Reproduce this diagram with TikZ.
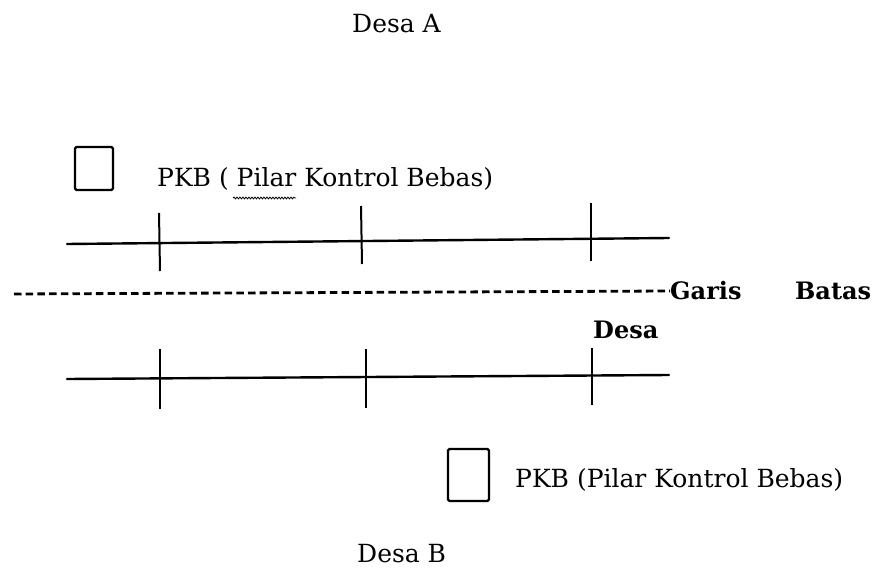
\documentclass[tikz,border=0pt]{standalone}
\usepackage{fontspec}
\setmainfont{DejaVu Serif}
\usetikzlibrary{decorations.pathmorphing}
\begin{document}
\begin{tikzpicture}[x=1pt,y=-1pt,
  lbl/.style={inner sep=0pt,anchor=base west,font=\fontsize{25}{30}\selectfont},
  boldlbl/.style={inner sep=0pt,anchor=base west,font=\fontsize{24}{29}\selectfont\bfseries},
  rail/.style={line width=2.4pt,line cap=round},
  tick/.style={line width=2pt},
  pillar/.style={draw,line width=2.2pt,rounded corners=1.5pt,inner sep=0pt},
  border/.style={line width=2.8pt,dash pattern=on 7.5pt off 4.2pt},
  squiggle/.style={line width=0.8pt,decorate,decoration={snake,amplitude=0.9pt,segment length=3pt}}]
\useasboundingbox[fill=white] (0,0) rectangle (872,569);

% village names
\node[lbl] (desaA) at (352,33) {Desa A};
\node[lbl] (desaB) at (357,562) {Desa B};

% legend: control pillars
\node[pillar,minimum width=38pt,minimum height=43pt] (boxTop) at (94,168.5) {};
\node[lbl] (pkbTop) at (157,187) {PKB ( Pilar Kontrol Bebas)};
\draw[squiggle] (233,198) -- (296,198);
\node[pillar,minimum width=41pt,minimum height=52pt] (boxBot) at (468.5,475) {};
\node[lbl] (pkbBot) at (515,487) {PKB (Pilar Kontrol Bebas)};

% upper survey line with pillars
\coordinate (uL) at (67,244);
\coordinate (uR) at (669,238);
\draw[rail] (uL) -- (uR);
\coordinate (u1a) at (159,213); \coordinate (u1b) at (160,271);
\coordinate (u2a) at (361,206); \coordinate (u2b) at (362,264);
\coordinate (u3a) at (591,203); \coordinate (u3b) at (591,261);
\draw[tick] (u1a) -- (u1b);
\draw[tick] (u2a) -- (u2b);
\draw[tick] (u3a) -- (u3b);

% village boundary
\coordinate (bL) at (14,294);
\coordinate (bR) at (670,291);
\draw[border] (bL) -- (bR);
\node[boldlbl] (garis) at (670,299) {Garis};
\node[boldlbl] (batas) at (795,299) {Batas};
\node[boldlbl] (desa) at (593,338) {Desa};

% lower survey line with pillars
\coordinate (lL) at (67,379);
\coordinate (lR) at (669,375);
\draw[rail] (lL) -- (lR);
\coordinate (l1a) at (160,349); \coordinate (l1b) at (160,409);
\coordinate (l2a) at (366,349); \coordinate (l2b) at (366,408);
\coordinate (l3a) at (592,348); \coordinate (l3b) at (592,405);
\draw[tick] (l1a) -- (l1b);
\draw[tick] (l2a) -- (l2b);
\draw[tick] (l3a) -- (l3b);
\end{tikzpicture}
\end{document}
